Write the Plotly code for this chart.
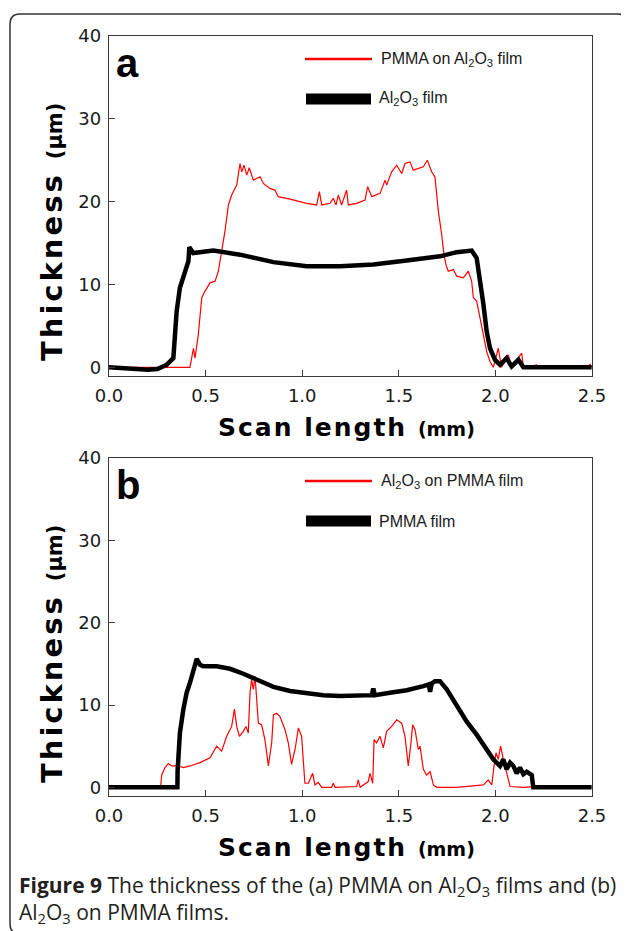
import plotly.graph_objects as go

# ---------------- data ----------------
tick_x_vals = [0.0, 0.5, 1.0, 1.5, 2.0, 2.5]
tick_x_text = ["0.0", "0.5", "1.0", "1.5", "2.0", "2.5"]
tick_y_vals = [0, 10, 20, 30, 40]
tick_y_text = ["0", "10", "20", "30", "40"]

# panel a: Al2O3 film (black)
a_black_x = [0.0, 0.13, 0.2, 0.25, 0.298, 0.333, 0.350, 0.367, 0.393, 0.411, 0.416, 0.436,
             0.540, 0.678, 0.851, 1.023, 1.196, 1.368, 1.541, 1.713, 1.800, 1.877, 1.903,
             1.920, 1.938, 1.955, 1.972, 1.998, 2.024, 2.058, 2.084, 2.119, 2.145, 2.498]
a_black_y = [0.0, -0.2, -0.3, -0.2, 0.3, 1.1, 6.7, 9.6, 11.6, 12.8, 14.5, 13.8,
             14.1, 13.6, 12.7, 12.2, 12.2, 12.4, 12.9, 13.4, 13.9, 14.1, 13.2,
             10.8, 7.6, 4.3, 2.3, 0.9, 0.3, 1.1, 0.1, 0.9, 0.0, 0.0]

# panel a: PMMA on Al2O3 film (red)
a_red_x = [0.0, 0.419, 0.437, 0.445, 0.462, 0.480, 0.497, 0.523, 0.549, 0.566, 0.583, 0.600,
           0.618, 0.635, 0.661, 0.678, 0.687, 0.699, 0.713, 0.726, 0.747, 0.782, 0.799,
           0.833, 0.859, 0.876, 0.937, 1.023, 1.075, 1.089, 1.101, 1.144, 1.161, 1.175,
           1.187, 1.204, 1.230, 1.239, 1.282, 1.325, 1.339, 1.360, 1.403, 1.429, 1.437,
           1.463, 1.489, 1.515, 1.532, 1.558, 1.575, 1.627, 1.648, 1.670, 1.687, 1.705,
           1.722, 1.734, 1.744, 1.756, 1.782, 1.800, 1.834, 1.860, 1.877, 1.886, 1.903,
           1.920, 1.938, 1.955, 1.972, 1.989, 2.015, 2.032, 2.067, 2.084, 2.136, 2.145,
           2.214, 2.222, 2.480, 2.490, 2.498]
a_red_y = [0.0, 0.0, 2.3, 1.1, 3.9, 8.4, 9.2, 10.2, 10.4, 11.6, 14.0, 16.4,
           19.6, 20.8, 22.0, 24.6, 23.6, 24.4, 23.2, 24.1, 22.6, 23.0, 22.2,
           21.6, 21.4, 20.6, 20.3, 19.8, 19.6, 21.2, 19.6, 19.8, 20.4, 19.6,
           20.8, 19.6, 21.4, 19.6, 19.8, 20.2, 21.8, 20.6, 21.0, 22.6, 22.0,
           23.6, 24.4, 23.4, 24.6, 24.8, 23.8, 24.2, 25.0, 23.6, 23.0, 18.8,
           16.0, 13.6, 12.4, 11.6, 11.8, 11.0, 10.8, 11.6, 10.4, 8.4, 8.0,
           5.9, 3.9, 1.9, 0.7, 0.0, 2.3, 0.0, 1.5, 0.0, 1.7, 0.0,
           0.3, 0.0, 0.0, 0.4, 0.0]

# panel b: PMMA film (black)
b_black_x = [0.0, 0.354, 0.355, 0.359, 0.367, 0.385, 0.402, 0.419, 0.437, 0.454, 0.471, 0.488,
             0.557, 0.626, 0.695, 0.764, 0.851, 0.937, 1.023, 1.109, 1.196, 1.282, 1.360,
             1.368, 1.376, 1.454, 1.541, 1.627, 1.655, 1.662, 1.670, 1.687, 1.713, 1.748,
             1.800, 1.851, 1.903, 1.955, 1.989, 2.024, 2.041, 2.058, 2.076, 2.093, 2.110,
             2.127, 2.145, 2.162, 2.188, 2.196, 2.498]
b_black_y = [0.0, 0.0, 2.0, 4.2, 6.6, 9.5, 11.5, 12.7, 14.1, 15.6, 14.9, 14.7,
             14.7, 14.4, 13.8, 13.1, 12.2, 11.7, 11.4, 11.2, 11.1, 11.1, 11.2,
             12.0, 11.2, 11.5, 11.8, 12.3, 12.5, 11.6, 12.6, 12.9, 12.9, 11.9,
             9.9, 8.0, 6.4, 4.6, 3.4, 2.6, 3.4, 2.2, 3.0, 2.6, 1.7,
             2.4, 1.6, 1.9, 1.5, 0.0, 0.0]

# panel b: Al2O3 on PMMA film (red)
b_red_x = [0.0, 0.267, 0.273, 0.290, 0.307, 0.324, 0.359, 0.385, 0.419, 0.471, 0.523, 0.557,
           0.583, 0.609, 0.635, 0.649, 0.661, 0.675, 0.695, 0.709, 0.721, 0.730, 0.738,
           0.747, 0.756, 0.764, 0.773, 0.790, 0.807, 0.825, 0.842, 0.851, 0.868, 0.885,
           0.911, 0.928, 0.945, 0.963, 0.980, 0.997, 1.014, 1.032, 1.054, 1.066, 1.083,
           1.101, 1.152, 1.161, 1.170, 1.282, 1.290, 1.300, 1.342, 1.351, 1.365, 1.372,
           1.385, 1.403, 1.420, 1.437, 1.463, 1.489, 1.515, 1.532, 1.549, 1.561, 1.572,
           1.584, 1.601, 1.610, 1.627, 1.644, 1.662, 1.679, 1.696, 1.800, 1.938, 1.963,
           1.981, 1.993, 2.003, 2.015, 2.027, 2.041, 2.058, 2.076, 2.145, 2.280, 2.290,
           2.498]
b_red_y = [0.0, 0.0, 1.5, 2.4, 2.9, 2.6, 2.6, 2.4, 2.6, 3.0, 3.6, 5.0,
           4.4, 6.2, 7.4, 9.5, 7.4, 6.2, 6.8, 7.4, 6.6, 11.5, 13.1,
           11.9, 13.5, 10.7, 7.8, 7.6, 5.8, 2.6, 5.4, 8.8, 9.0, 8.6,
           7.0, 5.4, 2.8, 4.6, 7.2, 6.2, 0.5, 0.5, 1.7, 0.3, 0.6,
           0.0, 0.0, 0.5, 0.0, 0.1, 0.9, 0.0, 0.7, 1.7, 0.5, 5.8,
           5.4, 6.2, 4.8, 6.8, 7.4, 8.2, 7.8, 6.2, 2.6, 5.0, 7.6,
           7.0, 4.6, 5.0, 2.2, 1.5, 1.9, 0.3, 0.0, 0.0, 0.3, 0.9,
           0.3, 2.6, 4.2, 3.4, 5.0, 3.4, 1.7, 0.1, 0.0, 0.2, 0.0,
           0.0]

# ---------------- layout helpers (window pixel -> paper) ----------------
OFF = 8                      # default page margin around the plot div
W, H = 629 - OFF, 931 - OFF
def fx(p):
    return (p - OFF) / W
def fy(p):
    return 1 - (p - OFF) / H

RED = "#ff0000"
INK = "#1a1a1a"
AX = "#3a3a3a"

fig = go.Figure()
fig.add_trace(go.Scatter(x=a_red_x, y=a_red_y, mode="lines", line=dict(color=RED, width=1.2),
                         xaxis="x", yaxis="y", showlegend=False))
fig.add_trace(go.Scatter(x=a_black_x, y=a_black_y, mode="lines", line=dict(color="#000", width=4.5),
                         xaxis="x", yaxis="y", showlegend=False))
fig.add_trace(go.Scatter(x=b_red_x, y=b_red_y, mode="lines", line=dict(color=RED, width=1.2),
                         xaxis="x2", yaxis="y2", showlegend=False))
fig.add_trace(go.Scatter(x=b_black_x, y=b_black_y, mode="lines", line=dict(color="#000", width=4.5),
                         xaxis="x2", yaxis="y2", showlegend=False))

tickfont = dict(family="DejaVu Sans", size=18, color=INK)
common_x = dict(range=[0, 2.5], tickvals=tick_x_vals, ticktext=tick_x_text, showgrid=False,
                zeroline=False, showline=True, linecolor=AX, linewidth=1.3, mirror=True,
                ticks="inside", ticklen=6, tickwidth=1.3, tickcolor=AX, tickfont=tickfont,
                domain=[fx(109), fx(592)], ticklabelstandoff=3, automargin=False)
common_y = dict(range=[-1.05, 40], tickvals=tick_y_vals, ticktext=tick_y_text, showgrid=False,
                zeroline=False, showline=True, linecolor=AX, linewidth=1.3, mirror=True,
                ticks="inside", ticklen=6, tickwidth=1.3, tickcolor=AX, tickfont=tickfont,
                ticklabelstandoff=3, automargin=False)

fig.update_layout(
    template="none",
    width=W, height=H, margin=dict(l=0, r=0, t=0, b=0, pad=0, autoexpand=False),
    paper_bgcolor="white", plot_bgcolor="white", showlegend=False,
    xaxis=dict(common_x, anchor="y"),
    yaxis=dict(common_y, anchor="x", domain=[fy(376), fy(36)]),
    xaxis2=dict(common_x, anchor="y2"),
    yaxis2=dict(common_y, anchor="x2", domain=[fy(796), fy(458)]),
)

shapes = []
annotations = []

# outer rounded frame
r = 10
x0, x1 = fx(10), fx(627.5)
y0, y1 = fy(14), fy(934)
rx, ry = r / W, r / H
path = (f"M {x0+rx} {y0} L {x1-rx} {y0} Q {x1} {y0} {x1} {y0-ry} "
        f"L {x1} {y1+ry} Q {x1} {y1} {x1-rx} {y1} L {x0+rx} {y1} Q {x0} {y1} {x0} {y1+ry} "
        f"L {x0} {y0-ry} Q {x0} {y0} {x0+rx} {y0} Z")
shapes.append(dict(type="path", xref="paper", yref="paper", path=path,
                   line=dict(color="#333", width=1.5)))

titlefont_x = dict(family="DejaVu Sans", size=25, color="#000", weight="bold")
titlefont_y = dict(family="DejaVu Sans", size=29, color="#000", weight="bold")
legfont = dict(family="Liberation Sans", size=16, color=INK)

panels = [
    dict(top=36, bottom=376, letter="a",
         leg=["PMMA on Al<sub>2</sub>O<sub>3</sub> film", "Al<sub>2</sub>O<sub>3</sub> film"]),
    dict(top=458, bottom=796, letter="b",
         leg=["Al<sub>2</sub>O<sub>3</sub> on PMMA film", "PMMA film"]),
]
for p in panels:
    t = p["top"]
    # x title
    annotations.append(dict(
        text="<span style='letter-spacing:2px'>Scan length </span><span style='font-size:19px'>(mm)</span>",
        xref="paper", yref="paper", x=fx(346), y=fy(p["bottom"] + 51), xanchor="center",
        yanchor="middle", showarrow=False, font=titlefont_x))
    # y title
    annotations.append(dict(
        text="<span style='letter-spacing:3px'>Thickness </span><span style='font-size:21px'>(μm)</span>",
        xref="paper", yref="paper", x=fx(52), y=fy(t + 196), xanchor="center",
        yanchor="middle", textangle=-90, showarrow=False, font=titlefont_y))
    # panel letter
    annotations.append(dict(
        text=p["letter"], xref="paper", yref="paper", x=fx(114), y=fy(t + 27),
        xanchor="left", yanchor="middle", showarrow=False,
        font=dict(family="Liberation Sans", size=40, color="#000", weight="bold")))
    # legend
    shapes.append(dict(type="line", xref="paper", yref="paper", x0=fx(305), x1=fx(372),
                       y0=fy(t + 23), y1=fy(t + 23), line=dict(color=RED, width=2.5)))
    shapes.append(dict(type="line", xref="paper", yref="paper", x0=fx(306), x1=fx(371),
                       y0=fy(t + 63), y1=fy(t + 63), line=dict(color="#000", width=11)))
    annotations.append(dict(text=p["leg"][0], xref="paper", yref="paper", x=fx(379),
                            y=fy(t + 23), xanchor="left", yanchor="middle", showarrow=False,
                            font=legfont))
    annotations.append(dict(text=p["leg"][1], xref="paper", yref="paper", x=fx(377),
                            y=fy(t + 63), xanchor="left", yanchor="middle", showarrow=False,
                            font=legfont))

capfont = dict(family="Open Sans", size=21, color="#231f20")
annotations.append(dict(
    text="<b>Figure 9</b> The thickness of the (a) PMMA on Al<sub>2</sub>O<sub>3</sub> films and (b)",
    xref="paper", yref="paper", x=fx(17), y=fy(886), xanchor="left", yanchor="middle",
    showarrow=False, font=capfont))
annotations.append(dict(
    text="Al<sub>2</sub>O<sub>3</sub> on PMMA films.",
    xref="paper", yref="paper", x=fx(17), y=fy(913), xanchor="left", yanchor="middle",
    showarrow=False, font=capfont))

fig.update_layout(shapes=shapes, annotations=annotations)
fig.write_html("out.html")
